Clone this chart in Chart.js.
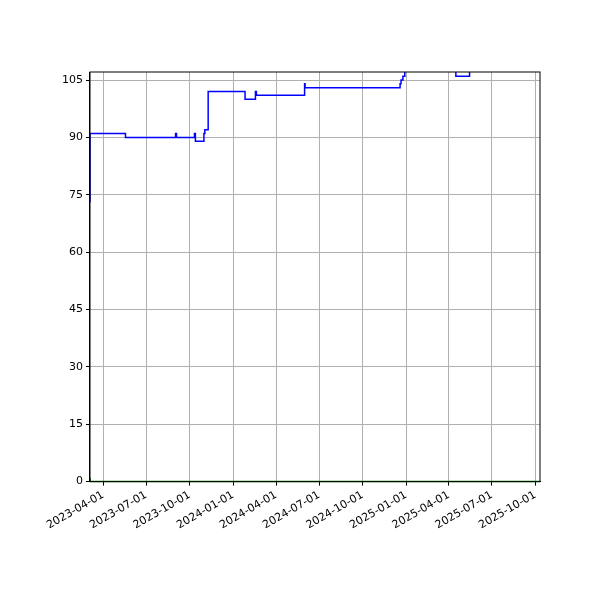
<!DOCTYPE html>
<html><head><script src="https://cdn.jsdelivr.net/npm/chart.js@4"></script>
<style>body{margin:0;background:#fff}</style></head>
<body><canvas id="c" width="600" height="600"></canvas>
<script>
const blueDates = ["2023-03-04","2023-05-18","2023-09-01","2023-09-03","2023-10-11","2023-10-13","2023-10-31","2023-11-02","2023-11-09","2024-01-26","2024-02-17","2024-02-19","2024-05-31","2024-06-01","2024-12-19","2024-12-21","2024-12-25","2024-12-29","2025-04-16","2025-05-15","2025-05-17","2025-10-11"];
const blueValues = [73,91,90,91,90,91,89,91,92,102,100,102,101,104,103,104,105,106,108,106,108,108];
const greenDates = ["2023-03-04","2023-11-09","2025-10-11"];
const greenValues = [1,0,0];
const tickDates = ["2023-04-01","2023-07-01","2023-10-01","2024-01-01","2024-04-01","2024-07-01","2024-10-01","2025-01-01","2025-04-01","2025-07-01","2025-10-01"];

const ms = d => Date.parse(d + "T00:00:00Z");
const pts = (ds, vs) => ds.map((d, i) => ({x: ms(d), y: vs[i]}));
const fmt = v => new Date(v).toISOString().slice(0, 10);

const frame = {
  id: "frame",
  afterDraw(c) {
    const a = c.chartArea, g = c.ctx;
    g.save(); g.strokeStyle = "#000"; g.lineWidth = 1;
    g.strokeRect(a.left, a.top, a.right - a.left, a.bottom - a.top);
    g.restore();
  }
};

new Chart(document.getElementById("c"), {
  type: "line",
  data: { datasets: [
    { data: pts(blueDates, blueValues), borderColor: "#0000ff", borderWidth: 1.5, stepped: "after", pointRadius: 0 },
    { data: pts(greenDates, greenValues), borderColor: "#008000", borderWidth: 1.5, stepped: "after", pointRadius: 0, clip: { left: 0, top: 0, right: 0, bottom: 2 } }
  ]},
  options: {
    responsive: false, animation: false,
    layout: { padding: { left: 59, right: 60, top: 72, bottom: 65 } },
    plugins: { legend: { display: false }, tooltip: { enabled: false } },
    scales: {
      x: {
        type: "linear", min: ms("2023-03-04"), max: ms("2025-10-11"),
        afterBuildTicks: ax => { ax.ticks = tickDates.map(d => ({ value: ms(d) })); },
        ticks: { callback: v => fmt(v), minRotation: 30, maxRotation: 30, color: "#000", font: { family: "DejaVu Sans", size: 11 } },
        grid: { color: "#b0b0b0", tickColor: "#000", tickLength: 4 },
        border: { color: "#000" }
      },
      y: {
        min: 0, max: 107.1,
        afterBuildTicks: ax => { ax.ticks = [0,15,30,45,60,75,90,105].map(v => ({ value: v })); },
        ticks: { color: "#000", font: { family: "DejaVu Sans", size: 11 } },
        grid: { color: "#b0b0b0", tickColor: "#000", tickLength: 4 },
        border: { color: "#000" }
      }
    }
  },
  plugins: [frame]
});
</script></body></html>
